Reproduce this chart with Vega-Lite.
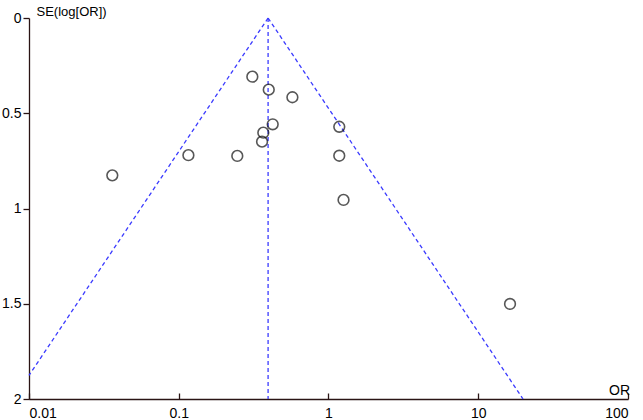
{
  "$schema": "https://vega.github.io/schema/vega-lite/v6.json",
  "width": 599,
  "height": 381,
  "autosize": {"type": "none"},
  "padding": {"left": 29, "top": 18, "right": 15, "bottom": 21},
  "background": "white",
  "config": {
    "view": {"stroke": null},
    "font": "Liberation Sans",
    "axis": {"grid": false, "domainColor": "#2a1414", "tickColor": "#2a1414", "labelColor": "black", "titleColor": "black", "labelFontSize": 14, "titleFontSize": 13, "titleFontWeight": "normal", "labelFont": "Liberation Sans", "titleFont": "Liberation Sans", "domainWidth": 1.3, "tickWidth": 1.3}
  },
  "datasets": {
    "pts": [
      {"or": 0.036, "se": 0.826},
      {"or": 0.116, "se": 0.72},
      {"or": 0.246, "se": 0.724},
      {"or": 0.31, "se": 0.308},
      {"or": 0.399, "se": 0.376},
      {"or": 0.574, "se": 0.416},
      {"or": 0.424, "se": 0.558},
      {"or": 0.367, "se": 0.602},
      {"or": 0.36, "se": 0.649},
      {"or": 1.18, "se": 0.571},
      {"or": 1.18, "se": 0.723},
      {"or": 1.26, "se": 0.955},
      {"or": 16.3, "se": 1.501}
    ],
    "lines": [
      {"line": "left", "or": 0.395, "se": 0},
      {"line": "left", "or": 0.01, "se": 1.876},
      {"line": "right", "or": 0.395, "se": 0},
      {"line": "right", "or": 19.9, "se": 2},
      {"line": "mid", "or": 0.395, "se": 0},
      {"line": "mid", "or": 0.395, "se": 2}
    ]
  },
  "layer": [
    {
      "data": {"name": "lines"},
      "mark": {"type": "line", "color": "#3b3bff", "strokeDash": [4, 3], "strokeWidth": 1.3},
      "encoding": {
        "x": {"field": "or", "type": "quantitative", "scale": {"type": "log", "domain": [0.01, 100]},
          "axis": {"values": [0.01, 0.1, 1, 10, 100], "format": "~g", "tickSize": -6, "labelPadding": 13, "title": "OR", "titleFontSize": 14, "titleAngle": 0, "titleX": 590, "titleY": -5, "titleAlign": "center", "titleBaseline": "alphabetic"}},
        "y": {"field": "se", "type": "quantitative", "scale": {"domain": [0, 2], "reverse": true, "nice": false},
          "axis": {"values": [0, 0.5, 1, 1.5, 2], "format": "~g", "tickSize": 6, "labelPadding": 2, "title": "SE(log[OR])", "titleAngle": 0, "titleX": 7, "titleY": -3, "titleAlign": "left", "titleBaseline": "alphabetic"}},
        "detail": {"field": "line"},
        "order": {"field": "se"}
      }
    },
    {
      "data": {"name": "pts"},
      "mark": {"type": "point", "shape": "circle", "filled": false, "stroke": "#111", "strokeWidth": 1.6, "size": 115},
      "encoding": {
        "x": {"field": "or", "type": "quantitative"},
        "y": {"field": "se", "type": "quantitative"}
      }
    }
  ]
}
